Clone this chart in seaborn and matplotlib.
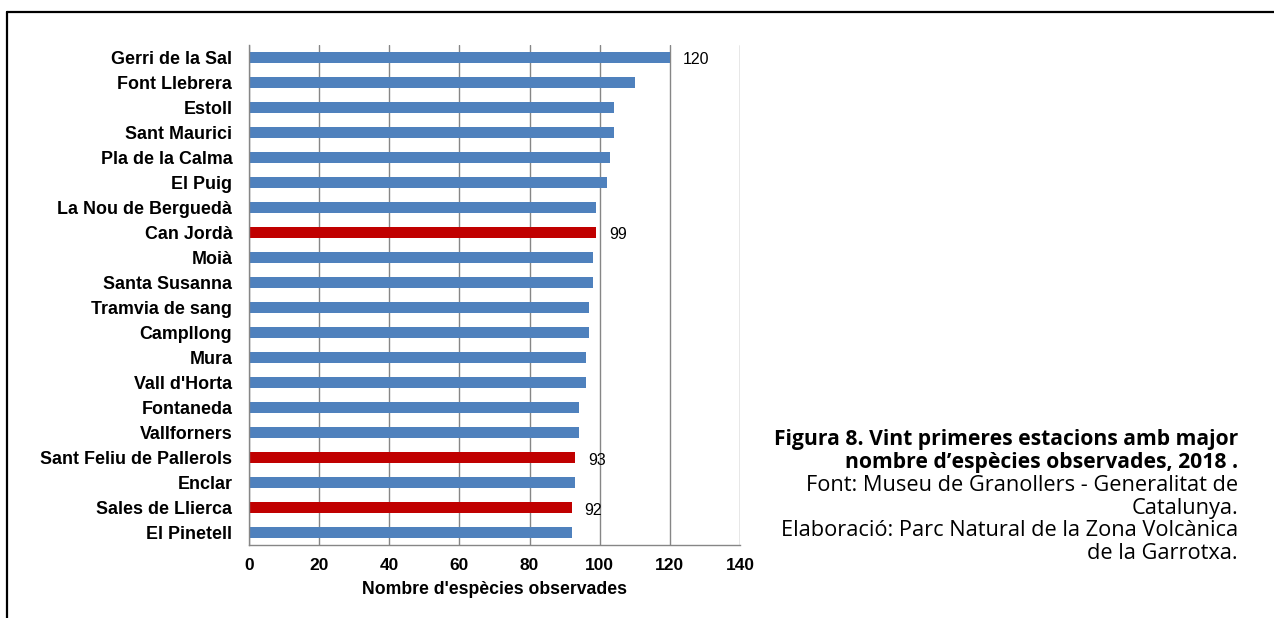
import matplotlib
matplotlib.use("Agg")
import matplotlib.pyplot as plt
from matplotlib.lines import Line2D
import seaborn as sns
import pandas as pd

stations = [
    "Gerri de la Sal", "Font Llebrera", "Estoll", "Sant Maurici", "Pla de la Calma",
    "El Puig", "La Nou de Berguedà", "Can Jordà", "Moià", "Santa Susanna",
    "Tramvia de sang", "Campllong", "Mura", "Vall d'Horta", "Fontaneda",
    "Vallforners", "Sant Feliu de Pallerols", "Enclar", "Sales de Llierca", "El Pinetell",
]
species = [120, 110, 104, 104, 103, 102, 99, 99, 98, 98,
           97, 97, 96, 96, 94, 94, 93, 93, 92, 92]
garrotxa = [False, False, False, False, False, False, False, True, False, False,
            False, False, False, False, False, False, True, False, True, False]
labelled = ["Gerri de la Sal", "Can Jordà", "Sant Feliu de Pallerols", "Sales de Llierca"]

x_ticks = [0, 20, 40, 60, 80, 100, 120, 140]
x_label = "Nombre d'espècies observades"
caption_bold = ["Figura 8. Vint primeres estacions amb major",
                "nombre d\u2019espècies observades, 2018 ."]
caption_plain = ["Font: Museu de Granollers - Generalitat de",
                 "Catalunya.",
                 "Elaboració: Parc Natural de la Zona Volcànica",
                 "de la Garrotxa."]

df = pd.DataFrame({"estacio": stations, "especies": species,
                   "grup": ["Garrotxa" if g else "Altres" for g in garrotxa]})

sns.set_theme(style="white")
plt.rcParams["font.family"] = ["Liberation Sans", "DejaVu Sans"]
plt.rcParams["text.color"] = "black"
plt.rcParams["axes.labelcolor"] = "black"
plt.rcParams["xtick.labelcolor"] = "black"
plt.rcParams["ytick.labelcolor"] = "black"

fig = plt.figure(figsize=(12.74, 6.18), dpi=100)
ax = fig.add_axes([0.1954, 0.1181, 0.3854, 0.8091])

grid_col = "#868686"
ax.set_axisbelow(True)
for t in x_ticks:
    ax.axvline(t, color=grid_col, lw=1.0, zorder=0)

sns.barplot(data=df, x="especies", y="estacio", hue="grup", order=stations,
            palette={"Altres": "#4F81BD", "Garrotxa": "#C00000"},
            dodge=False, width=0.42, legend=False, ax=ax, orient="h",
            edgecolor="none", saturation=1)

ax.set_xlim(0, 140)
ax.set_ylim(len(stations) - 0.5, -0.5)
ax.set_xticks(x_ticks)
ax.set_xticklabels([str(t) for t in x_ticks], fontsize=12.5, fontweight="bold")
ax.tick_params(axis="x", direction="out", length=5, color=grid_col, width=1, pad=4)
ax.set_yticks(range(len(stations)))
ax.set_yticklabels(stations, fontsize=12.9, fontweight="bold")
ax.set_yticks([i - 0.5 for i in range(len(stations) + 1)], minor=True)
ax.tick_params(axis="y", which="major", length=0, pad=12)
ax.tick_params(axis="y", which="minor", direction="out", length=5, color=grid_col, width=1)
ax.set_xlabel(x_label, fontsize=12.7, fontweight="bold", labelpad=6)
ax.set_ylabel("")

for side in ["top", "right"]:
    ax.spines[side].set_visible(False)
for side in ["left", "bottom"]:
    ax.spines[side].set_color(grid_col)
    ax.spines[side].set_linewidth(1)

for name in labelled:
    i = stations.index(name)
    ax.text(species[i] + 3.7, i + 0.1, str(species[i]), va="center", ha="left",
            fontsize=11.5, color="black")

# caption block at the right
cap_x = 1238 / 1274
y0 = 1 - 440 / 618
dy = 22.7 / 618
lines = [(t, "bold", 15.2) for t in caption_bold] + [(t, "normal", 15.7) for t in caption_plain]
for k, (txt, w, fs) in enumerate(lines):
    fig.text(cap_x, y0 - k * dy, txt, ha="right", va="center", fontsize=fs,
             fontweight=w, family=["Open Sans", "DejaVu Sans"], color="black")

# frame lines
fig.add_artist(Line2D([7 / 1274, 1], [1 - 12 / 618, 1 - 12 / 618],
                      transform=fig.transFigure, color="black", lw=1.6))
fig.add_artist(Line2D([7 / 1274, 7 / 1274], [0, 1 - 12 / 618],
                      transform=fig.transFigure, color="black", lw=1.6))

fig.savefig("out.png", dpi=100, facecolor="white")
